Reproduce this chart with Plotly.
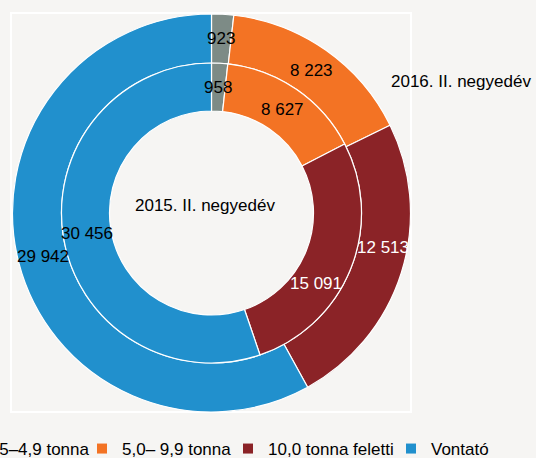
import math
import plotly.graph_objects as go

categories = ["3,5–4,9 tonna", "5,0– 9,9 tonna", "10,0 tonna feletti", "Vontató"]
values_2016 = [923, 8223, 12513, 29942]
values_2015 = [958, 8627, 15091, 30456]
colors = ["#7d8b86", "#f37324", "#8b2327", "#2190cd"]
text_colors = ["black", "black", "white", "black"]

# style: small angular nudges (degrees) of the value labels, as in the reference
nudge_2016 = [0.0, 0.0, -6.0, 0.0]
nudge_2015 = [0.0, 0.0, 12.4, 0.0]

W, H = 536, 458
cx, cy = 211.5, 213
r_out, r_mid, r_in = 199, 150, 102
FONT = "Liberation Sans, Arial"

def dom(r):
    return dict(x=[(cx - r) / W, (cx + r) / W],
                y=[(H - cy - r) / H, (H - cy + r) / H])

def label(text, x_px, y_px, color="black"):
    fig.add_annotation(text=text, x=x_px / W, y=(H - y_px) / H,
                       xref="paper", yref="paper", showarrow=False,
                       xanchor="center", yanchor="middle",
                       font=dict(size=17, color=color, family=FONT))

fig = go.Figure()
rings = [(values_2016, r_out, r_mid, "2016. II. negyedév", nudge_2016),
         (values_2015, r_mid, r_in, "2015. II. negyedév", nudge_2015)]
for vals, r, rh, name, _ in rings:
    fig.add_trace(go.Pie(
        labels=categories, values=vals, sort=False, direction="clockwise",
        rotation=0, hole=rh / r, domain=dom(r),
        marker=dict(colors=colors, line=dict(color="white", width=1.2)),
        textinfo="none", showlegend=False, name=name,
        hovertemplate="%{label}: %{value:,.0f}<extra>" + name + "</extra>"))

# value labels at the centre of each slice (mid-angle, mid-ring)
for vals, r, rh, name, nudges in rings:
    total = float(sum(vals))
    cum = 0.0
    rr = (r + rh) / 2
    for v, tc, nd in zip(vals, text_colors, nudges):
        ang = 2 * math.pi * (cum + v / 2) / total + math.radians(nd)
        cum += v
        label(f"{v:,}".replace(",", " "),
              cx + rr * math.sin(ang), cy - rr * math.cos(ang), tc)

# legend entries, one legend per category so each can sit where the reference puts it
legend_text_x = [-14, 123, 269, 432]
legend_y = 449
layout_legends = {}
for i, (cat, col) in enumerate(zip(categories, colors)):
    key = "legend" if i == 0 else f"legend{i + 1}"
    fig.add_trace(go.Scatter(x=[None], y=[None], mode="markers", name=cat,
                             marker=dict(symbol="square", size=10, color=col),
                             showlegend=True, legend=key, hoverinfo="skip"))
    layout_legends[key] = dict(
        x=(legend_text_x[i] - 41) / W, xanchor="left",
        y=(H - legend_y) / H, yanchor="middle",
        orientation="h", font=dict(size=17, family=FONT, color="black"),
        bgcolor="rgba(0,0,0,0)", borderwidth=0)

fig.add_shape(type="rect", xref="paper", yref="paper",
              x0=11 / W, x1=411 / W, y0=(H - 412) / H, y1=(H - 13) / H,
              line=dict(color="white", width=2), layer="below")

label("2015. II. negyedév", 205, 205)
label("2016. II. negyedév", 461, 82)

fig.update_layout(
    width=W, height=H, margin=dict(l=0, r=0, t=0, b=0, autoexpand=False),
    paper_bgcolor="#f6f5f3", plot_bgcolor="rgba(0,0,0,0)",
    separators=", ",
    font=dict(family=FONT, size=17, color="black"),
    xaxis=dict(visible=False), yaxis=dict(visible=False),
    **layout_legends,
)

fig.write_html("out.html", config={"displayModeBar": False},
               post_script="document.body.style.margin='0';")
